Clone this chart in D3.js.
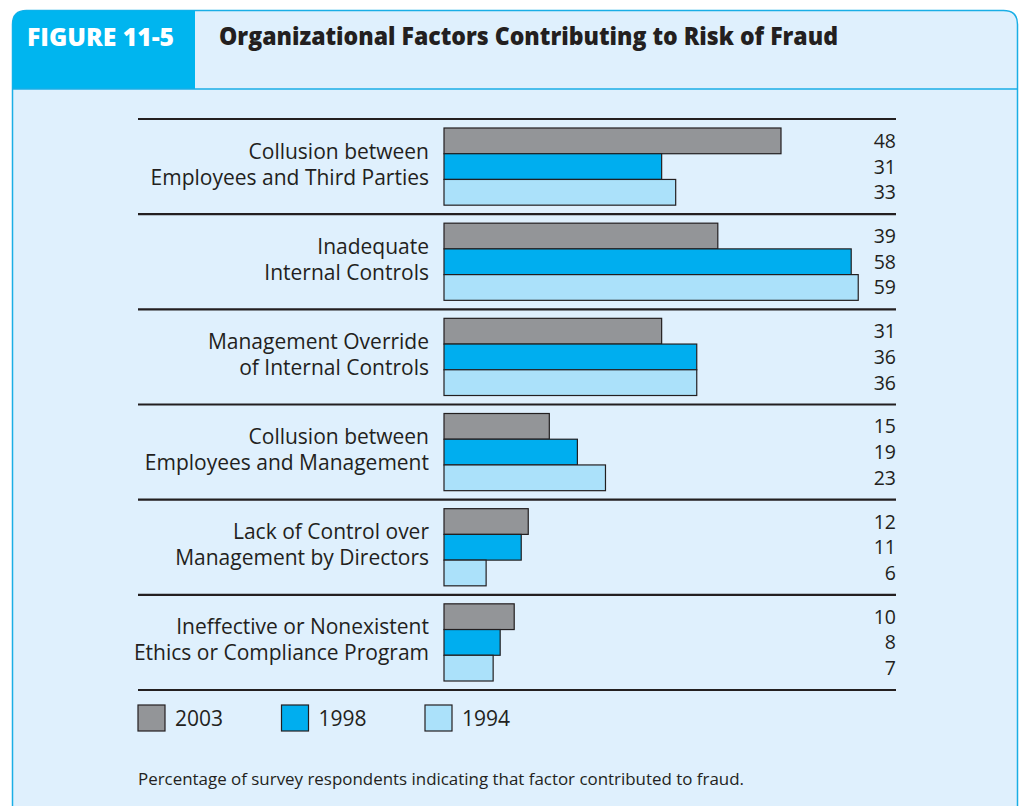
<!DOCTYPE html>
<html>
<head>
<meta charset="utf-8">
<script src="https://cdn.jsdelivr.net/npm/d3@7"></script>
<style>
  html, body { margin: 0; padding: 0; background: #ffffff; }
  svg { display: block; }
</style>
</head>
<body>
<svg id="chart" width="1020" height="806"></svg>
<script>
// Organizational factors contributing to risk of fraud (percent of respondents)
const categories = [
  ["Collusion between", "Employees and Third Parties"],
  ["Inadequate", "Internal Controls"],
  ["Management Override", "of Internal Controls"],
  ["Collusion between", "Employees and Management"],
  ["Lack of Control over", "Management by Directors"],
  ["Ineffective or Nonexistent", "Ethics or Compliance Program"]
];
const years = ["2003", "1998", "1994"];
const values2003 = [48, 39, 31, 15, 12, 10];
const values1998 = [31, 58, 36, 19, 11, 8];
const values1994 = [33, 59, 36, 23, 6, 7];
const yearColors = ["#939598", "#00aeef", "#abe1fa"];

const series = [values2003, values1998, values1994];

const svg = d3.select("#chart");
const bodyFill = "#dff0fd";
const frameBlue = "#1aaee6";
const ink = "#231f20";

// Frame: rounded top corners, open at the bottom
const fx0 = 12.5, fx1 = 1017.5, fy0 = 10.5, r = 14, fy1 = 830;
svg.append("path")
  .attr("d", `M${fx0},${fy1} L${fx0},${fy0 + r} Q${fx0},${fy0} ${fx0 + r},${fy0} L${fx1 - r},${fy0} Q${fx1},${fy0} ${fx1},${fy0 + r} L${fx1},${fy1}`)
  .attr("fill", bodyFill)
  .attr("stroke", frameBlue)
  .attr("stroke-width", 1.5);

// Header tab
svg.append("path")
  .attr("d", `M${fx0},89 L${fx0},${fy0 + r} Q${fx0},${fy0} ${fx0 + r},${fy0} L195,${fy0} L195,89 Z`)
  .attr("fill", "#00b5ef");
svg.append("line")
  .attr("x1", fx0).attr("x2", fx1).attr("y1", 89).attr("y2", 89)
  .attr("stroke", frameBlue).attr("stroke-width", 1.5);

svg.append("text")
  .attr("x", 27).attr("y", 46)
  .attr("font-family", "'Open Sans', sans-serif")
  .attr("font-weight", 800)
  .attr("font-size", 24)
  .attr("fill", "#ffffff")
  .attr("textLength", 147)
  .attr("lengthAdjust", "spacingAndGlyphs")
  .text("FIGURE 11-5");

svg.append("text")
  .attr("x", 219).attr("y", 45)
  .attr("font-family", "'Open Sans', sans-serif")
  .attr("font-weight", 800)
  .attr("font-size", 24)
  .attr("fill", ink)
  .attr("textLength", 619)
  .attr("lengthAdjust", "spacingAndGlyphs")
  .text("Organizational Factors Contributing to Risk of Fraud");

// Chart geometry
const ruleLeft = 138, ruleRight = 896, barLeft = 444;
const plotTop = 119, plotBottom = 690;

const yBand = d3.scaleBand()
  .domain(d3.range(categories.length))
  .range([plotTop, plotBottom])
  .paddingInner(0).paddingOuter(0);

const x = d3.scaleLinear()
  .domain([0, 48])
  .range([barLeft, 781]);

const bandH = yBand.bandwidth();
const pad = 9;
const yInner = d3.scaleBand()
  .domain(d3.range(years.length))
  .range([pad, bandH - pad]);

const labelFont = "'Open Sans', sans-serif";

const groups = svg.append("g").selectAll("g")
  .data(categories)
  .join("g")
  .attr("transform", (d, i) => `translate(0,${yBand(i)})`);

groups.selectAll("rect")
  .data((d, i) => series.map((s, k) => ({ v: s[i], k })))
  .join("rect")
  .attr("x", x(0))
  .attr("y", d => yInner(d.k))
  .attr("width", d => x(d.v) - x(0))
  .attr("height", yInner.bandwidth())
  .attr("fill", d => yearColors[d.k])
  .attr("stroke", ink)
  .attr("stroke-width", 1.2);

groups.selectAll("text.val")
  .data((d, i) => series.map((s, k) => ({ v: s[i], k })))
  .join("text")
  .attr("class", "val")
  .attr("x", ruleRight)
  .attr("y", d => yInner(d.k) + yInner.bandwidth() / 2 + 7)
  .attr("text-anchor", "end")
  .attr("font-family", labelFont)
  .attr("font-size", 19.5)
  .attr("fill", ink)
  .text(d => d.v);

groups.each(function (lines) {
  const t = d3.select(this).append("text")
    .attr("text-anchor", "end")
    .attr("font-family", labelFont)
    .attr("font-size", 21)
    .attr("fill", ink);
  lines.forEach((ln, j) => {
    t.append("tspan")
      .attr("x", 429)
      .attr("y", bandH / 2 - 8 + j * 26)
      .text(ln);
  });
});

// Horizontal rules between categories
svg.append("g").selectAll("line")
  .data(d3.range(categories.length + 1))
  .join("line")
  .attr("x1", ruleLeft).attr("x2", ruleRight)
  .attr("y1", i => i < categories.length ? yBand(i) : plotBottom)
  .attr("y2", i => i < categories.length ? yBand(i) : plotBottom)
  .attr("stroke", ink)
  .attr("stroke-width", 2.2);

// Legend
const legend = svg.append("g").selectAll("g")
  .data(years)
  .join("g")
  .attr("transform", (d, i) => `translate(${138 + i * 143.5},705)`);
legend.append("rect")
  .attr("width", 27).attr("height", 26)
  .attr("fill", (d, i) => yearColors[i])
  .attr("stroke", ink).attr("stroke-width", 1.2);
legend.append("text")
  .attr("x", 37).attr("y", 20.5)
  .attr("font-family", labelFont)
  .attr("font-size", 21)
  .attr("fill", ink)
  .text(d => d);

// Footnote
svg.append("text")
  .attr("x", 138).attr("y", 785)
  .attr("font-family", "'Open Sans', sans-serif")
  .attr("font-size", 16)
  .attr("fill", ink)
  .attr("textLength", 606)
  .attr("lengthAdjust", "spacingAndGlyphs")
  .text("Percentage of survey respondents indicating that factor contributed to fraud.");
</script>
</body>
</html>
